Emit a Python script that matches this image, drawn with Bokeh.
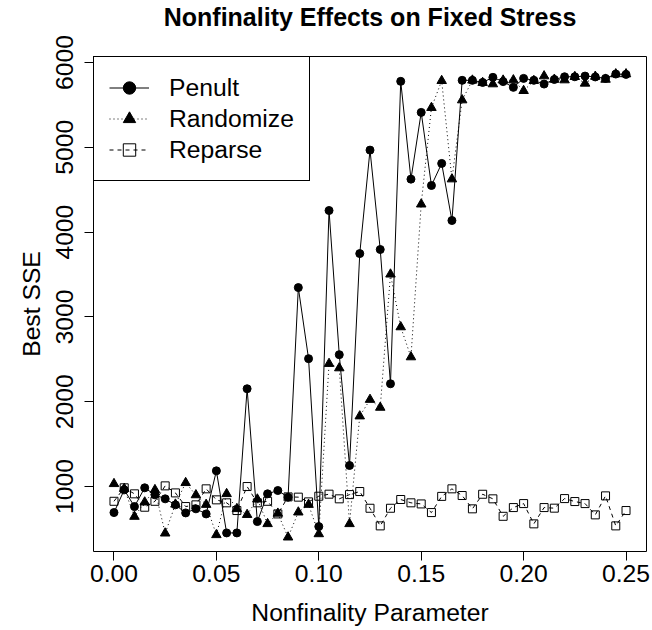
from bokeh.plotting import figure
from bokeh.models import FixedTicker, Legend, LegendItem, Range1d, Title
from bokeh.embed import file_html
from bokeh.resources import INLINE

# ---------------- data ----------------
nonfinality = [0.000, 0.005, 0.010, 0.015, 0.020, 0.025, 0.030, 0.035, 0.040, 0.045,
               0.050, 0.055, 0.060, 0.065, 0.070, 0.075, 0.080, 0.085, 0.090, 0.095,
               0.100, 0.105, 0.110, 0.115, 0.120, 0.125, 0.130, 0.135, 0.140, 0.145,
               0.150, 0.155, 0.160, 0.165, 0.170, 0.175, 0.180, 0.185, 0.190, 0.195,
               0.200, 0.205, 0.210, 0.215, 0.220, 0.225, 0.230, 0.235, 0.240, 0.245,
               0.250]

penult = [693, 961, 764, 985, 902, 855, 784, 689, 737, 677,
          1185, 453, 453, 2153, 587, 914, 953, 874, 3346, 2508,
          528, 4255, 2555, 1248, 3747, 4967, 3795, 2212, 5778, 4625,
          5412, 4550, 4810, 4137, 5790, 5790, 5765, 5825, 5775, 5707,
          5813, 5790, 5746, 5800, 5832, 5832, 5840, 5830, 5813, 5864,
          5860]

randomize = [1032, 975, 646, 815, 961, 449, 790, 1044, 900, 787,
             430, 914, 737, 668, 850, 560, 683, 402, 697, 787,
             441, 2449, 2397, 560, 1830, 2025, 1932, 3503, 2881, 2527,
             4329, 5467, 5785, 4625, 5557, 5790, 5762, 5746, 5790, 5793,
             5667, 5785, 5840, 5800, 5793, 5832, 5754, 5835, 5800, 5864,
             5864]

reparse = [826, 985, 914, 756, 826, 1008, 925, 764, 784, 973,
           843, 808, 717, 1000, 808, 826, 677, 878, 875, 819,
           886, 910, 855, 905, 941, 744, 536, 744, 847, 808,
           795, 693, 884, 973, 894, 737, 909, 855, 649, 752,
           799, 560, 752, 745, 858, 823, 799, 666, 890, 536,
           717]

series_names = ["Penult", "Randomize", "Reparse"]
x_ticks = [0.0, 0.05, 0.10, 0.15, 0.20, 0.25]
x_tick_labels = ["0.00", "0.05", "0.10", "0.15", "0.20", "0.25"]
y_ticks = [1000, 2000, 3000, 4000, 5000, 6000]
y_tick_labels = ["1000", "2000", "3000", "4000", "5000", "6000"]
title_text = "Nonfinality Effects on Fixed Stress"
x_label = "Nonfinality Parameter"
y_label = "Best SSE"

FONT = "Liberation Sans"
FS = "24.7px"

p = figure(width=652, height=630, output_backend="svg", toolbar_location=None,
           x_range=Range1d(-0.01, 0.26), y_range=Range1d(234, 6071),
           min_border_left=93, min_border_right=6, min_border_top=56,
           min_border_bottom=79)

# spacer panel next to the frame, real title above it
spacer = Title(text=" ", text_font_size="1px", standoff=23)
p.add_layout(spacer, "above")
main_title = Title(text=title_text, text_font=FONT, text_font_size="25px",
                   text_font_style="bold", align="center", vertical_align="bottom",
                   text_color="black", standoff=0)
p.add_layout(main_title, "above")

p.xgrid.visible = False
p.ygrid.visible = False
p.background_fill_color = "white"
p.border_fill_color = "white"
p.outline_line_color = "black"
p.outline_line_width = 1
p.outline_line_alpha = 1

for ax in (p.xaxis[0], p.yaxis[0]):
    ax.axis_line_color = None
    ax.major_tick_line_color = "black"
    ax.major_tick_out = 9
    ax.major_tick_in = 0
    ax.minor_tick_line_color = None
    ax.major_label_text_font = FONT
    ax.major_label_text_font_size = FS
    ax.major_label_text_color = "black"
    ax.axis_label_text_font = FONT
    ax.axis_label_text_font_size = FS
    ax.axis_label_text_font_style = "normal"
    ax.axis_label_text_color = "black"

p.xaxis.ticker = FixedTicker(ticks=x_ticks)
p.xaxis.major_label_overrides = dict(zip(x_ticks, x_tick_labels))
p.xaxis.axis_label = x_label
p.xaxis.major_label_standoff = 4
p.xaxis.axis_label_standoff = 14

p.yaxis.ticker = FixedTicker(ticks=y_ticks)
p.yaxis.major_label_overrides = dict(zip(y_ticks, y_tick_labels))
p.yaxis.major_label_orientation = "vertical"
p.yaxis.axis_label = y_label
p.yaxis.major_label_standoff = 11
p.yaxis.axis_label_standoff = 9

# ---------------- series ----------------
r1l = p.line(nonfinality, penult, line_color="black", line_width=1)
r1s = p.scatter(nonfinality, penult, marker="circle", size=8,
                fill_color="black", line_color="black")

r2l = p.line(nonfinality, randomize, line_color="black", line_width=1,
             line_dash="1 3")
r2s = p.scatter(nonfinality, randomize, marker="triangle", size=9.5,
                fill_color="black", line_color="black")

r3l = p.line(nonfinality, reparse, line_color="black", line_width=1,
             line_dash="4 4")
r3s = p.scatter(nonfinality, reparse, marker="square", size=8,
                fill_color=None, line_color="black", line_width=1)

legend = Legend(items=[
    LegendItem(label=series_names[0], renderers=[r1l, r1s]),
    LegendItem(label=series_names[1], renderers=[r2l, r2s]),
    LegendItem(label=series_names[2], renderers=[r3l, r3s]),
], location="top_left", margin=0, padding=15, spacing=0,
    label_height=31, glyph_height=31, glyph_width=40, label_standoff=20,
    label_text_font=FONT, label_text_font_size=FS, label_text_color="black",
    border_line_color="black", border_line_width=1, border_line_alpha=1,
    background_fill_color="white", background_fill_alpha=1)
p.add_layout(legend)

open("out.html", "w").write(file_html(p, INLINE))
